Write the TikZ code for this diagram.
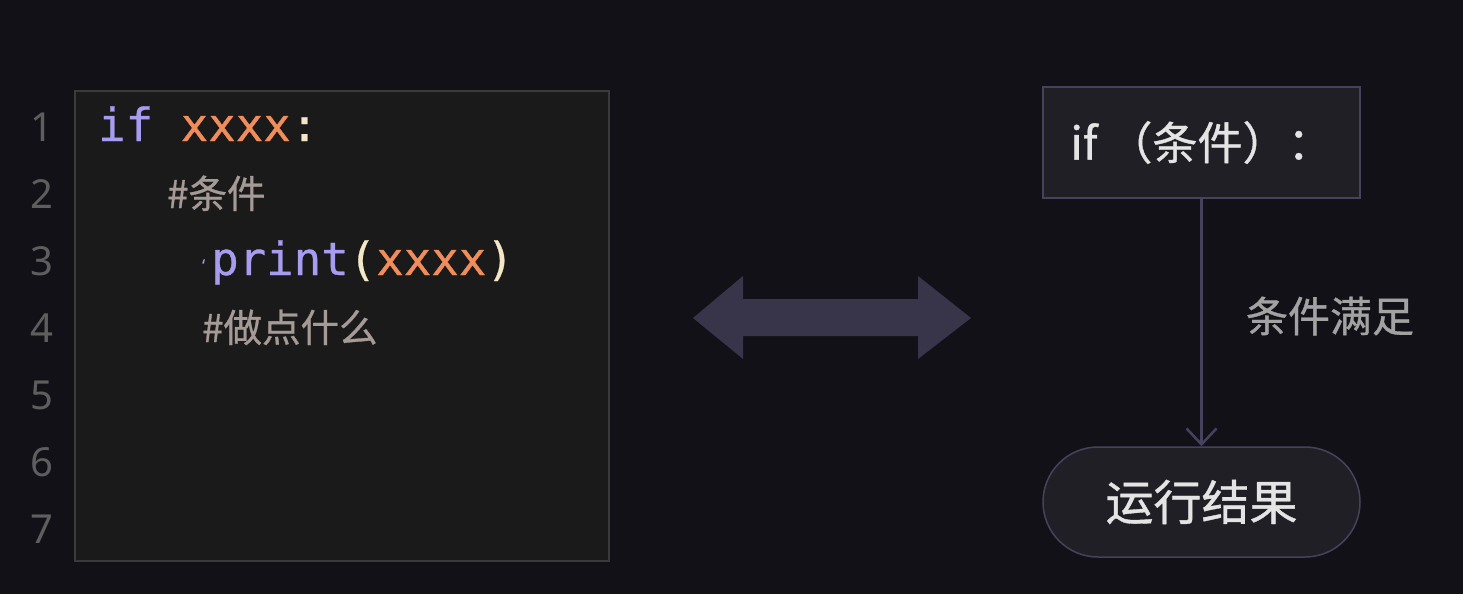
\documentclass[tikz,border=0pt]{standalone}
\usepackage{fontspec}
\setmainfont{Noto Sans CJK SC}
\newfontfamily\cjk[FakeBold=0.8]{Noto Sans CJK SC}
\newfontfamily\monof[FakeBold=0.6]{DejaVu Sans Mono}
\newfontfamily\numf{Noto Sans}
\usetikzlibrary{arrows.meta}
\definecolor{bg}{HTML}{121117}
\definecolor{codebg}{HTML}{1A1A1A}
\definecolor{codeborder}{HTML}{3A3A3A}
\definecolor{lineno}{HTML}{5E5E5E}
\definecolor{kw}{HTML}{A89CF0}
\definecolor{var}{HTML}{F08D5A}
\definecolor{punc}{HTML}{F4E6C6}
\definecolor{cmt}{HTML}{A69A96}
\definecolor{arrowfill}{HTML}{38344A}
\definecolor{boxfill}{HTML}{201F26}
\definecolor{boxborder}{HTML}{46425C}
\definecolor{linkc}{HTML}{46425E}
\definecolor{boxtext}{HTML}{E4E4E4}
\definecolor{lbltext}{HTML}{A2A2A2}
\tikzset{
  numlabel/.style={anchor=base, text=lineno, font=\numf\fontsize{40}{44}\selectfont, inner sep=0pt},
  codeline/.style={anchor=base west, font=\monof\fontsize{45.7}{50}\selectfont, inner sep=0pt},
  cmtline/.style={anchor=base west, text=cmt, font=\cjk\fontsize{38.5}{42}\selectfont, inner sep=0pt},
  procbox/.style={draw=boxborder, fill=boxfill, line width=1.5pt, minimum width=317pt, minimum height=111pt, text=boxtext, font=\cjk\fontsize{45}{50}\selectfont},
  termbox/.style={draw=boxborder, fill=boxfill, line width=1.5pt, rounded corners=55pt, minimum width=317pt, minimum height=110pt, text=boxtext, font=\cjk\fontsize{48}{52}\selectfont},
  link/.style={draw=linkc, line width=2.5pt, -{Straight Barb[length=16pt, width=30pt, line width=2.5pt]}},
  lbl/.style={text=lbltext, font=\cjk\fontsize{42}{46}\selectfont, inner sep=0pt}
}
\begin{document}
\begin{tikzpicture}[x=1pt, y=-1pt]
\useasboundingbox (0,0) rectangle (1463,594);
\fill[bg] (0,0) rectangle (1463,594);
% code panel
\draw[codeborder, fill=codebg, line width=1.5pt] (75,91) rectangle (609,561);
\foreach \i in {1,...,7} {
  \node[numlabel] (n\i) at (42,{141+67*(\i-1)}) {\i};
}
\node[codeline] (c1) at (98,141) {\textcolor{kw}{if} \textcolor{var}{xxxx}\textcolor{punc}{:}};
\node[cmtline] (c2) at (167,208) {\#条件};
\node[anchor=base west, inner sep=0pt, text=kw, font=\numf\fontsize{18}{20}\selectfont] (q3) at (202,272) {‘};
\node[codeline] (c3) at (211,275) {\textcolor{kw}{print}\textcolor{punc}{(}\textcolor{var}{xxxx}\textcolor{punc}{)}};
\node[cmtline] (c4) at (202,342) {\#做点什么};
% double arrow
\fill[arrowfill] (693,318) -- (743,276) -- (743,299) -- (918,299) -- (918,276) -- (971,318)
  -- (918,359) -- (918,336) -- (743,336) -- (743,359) -- cycle;
% flow chart
\node[procbox] (cond) at (1201.5,142.5) {if\hspace{10pt}（条件）：};
\node[termbox] (res) at (1201.5,502) {运行结果};
\draw[link] (cond.south) -- (res.north);
\node[lbl] (lab) at (1330,316) {条件满足};
\end{tikzpicture}
\end{document}
